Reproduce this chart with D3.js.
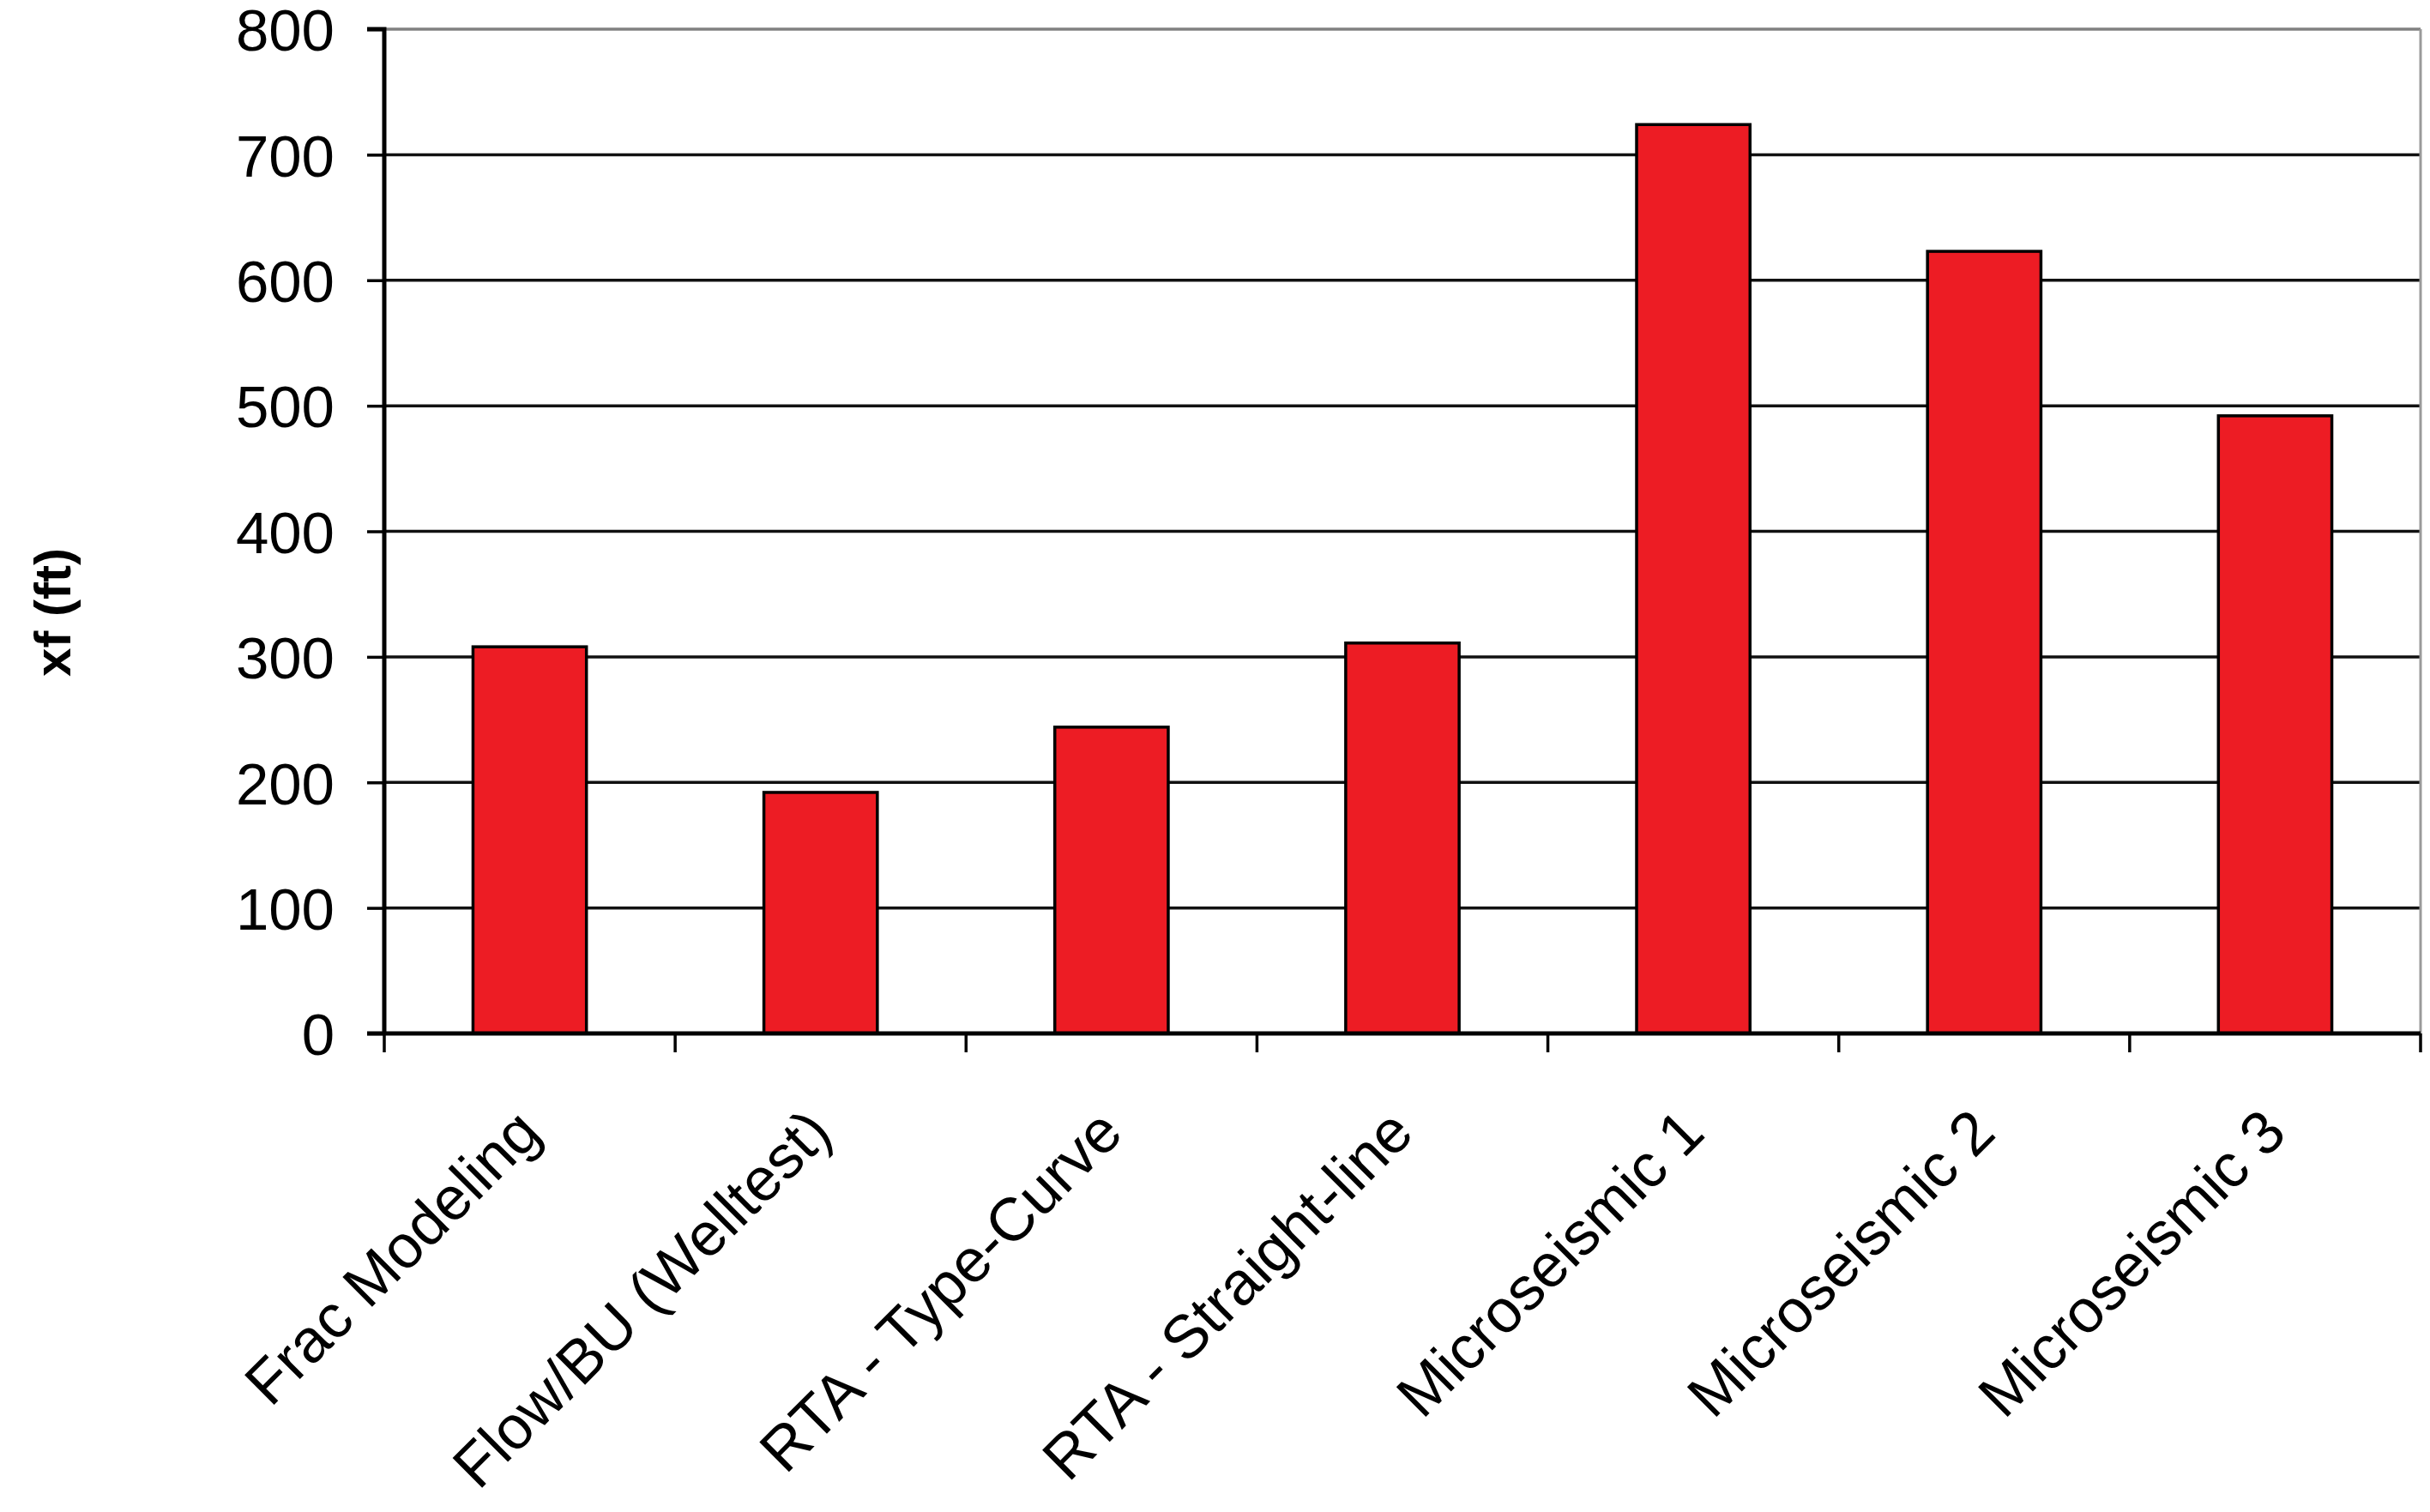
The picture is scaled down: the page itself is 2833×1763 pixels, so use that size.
<!DOCTYPE html>
<html>
<head>
<meta charset="utf-8">
<script src="https://cdn.jsdelivr.net/npm/d3@7"></script>
<style>
html,body{margin:0;padding:0;background:#fff;}
svg{display:block;}
text{font-family:"Liberation Sans",Arial,sans-serif;}
</style>
</head>
<body>
<script>
const categories = ["Frac Modeling","Flow/BU (Welltest)","RTA - Type-Curve","RTA - Straight-line","Microseismic 1","Microseismic 2","Microseismic 3"];
const values = [308,192,244,311,724,623,492];
const yTicks = [0,100,200,300,400,500,600,700,800];
const yTitle = "xf (ft)";

const W = 2833, H = 1763;
const mLeft = 448, mRight = 2822, mTop = 34, mBottom = 1205;

const svg = d3.select("body").append("svg").attr("width", W).attr("height", H);

const x = d3.scaleBand().domain(categories).range([mLeft, mRight]).paddingInner(0.61).paddingOuter(0.305);
const y = d3.scaleLinear().domain([0, 800]).range([mBottom, mTop]);
const step = x.step();

// gridlines
svg.append("g").selectAll("line").data(yTicks.filter(d => d > 0)).join("line")
  .attr("x1", mLeft).attr("x2", mRight)
  .attr("y1", d => y(d)).attr("y2", d => y(d))
  .attr("stroke", d => d === 800 ? "#808080" : "#111").attr("stroke-width", 3.5);

// right border
svg.append("line").attr("x1", mRight).attr("x2", mRight).attr("y1", y(800)).attr("y2", mBottom)
  .attr("stroke", "#9a9a9a").attr("stroke-width", 3);

// bars
svg.append("g").selectAll("rect").data(categories).join("rect")
  .attr("x", d => x(d)).attr("width", x.bandwidth())
  .attr("y", (d, i) => y(values[i])).attr("height", (d, i) => y(0) - y(values[i]))
  .attr("fill", "#ED1C24").attr("stroke", "#000").attr("stroke-width", 3.5);

// y axis
const yAxis = d3.axisLeft(y).tickValues(yTicks).tickSize(20).tickPadding(38);
const gy = svg.append("g").attr("transform", `translate(${mLeft},0)`).call(yAxis);
gy.select(".domain").attr("stroke", "#000").attr("stroke-width", 5).attr("d", `M-20,${mTop}H0V${mBottom}`);
gy.selectAll(".tick line").attr("stroke", "#000").attr("stroke-width", 3.5);
gy.selectAll(".tick text").attr("font-size", 69).attr("fill", "#000")
  .attr("font-family", "'Liberation Sans', Arial, sans-serif").attr("dy", "0.36em");

// x axis baseline + ticks at band boundaries
const xg = svg.append("g");
xg.append("line").attr("x1", mLeft - 20).attr("x2", mRight).attr("y1", mBottom).attr("y2", mBottom)
  .attr("stroke", "#000").attr("stroke-width", 5);
const bounds = d3.range(categories.length + 1).map(i => x(categories[0]) - step * x.paddingOuter() + i * step);
xg.selectAll("line.tk").data(bounds).join("line").attr("class", "tk")
  .attr("x1", d => d).attr("x2", d => d).attr("y1", mBottom).attr("y2", mBottom + 22)
  .attr("stroke", "#000").attr("stroke-width", 3.5);

// x labels
xg.selectAll("text").data(categories).join("text")
  .attr("transform", d => `translate(${x(d) + x.bandwidth() / 2 + 16},${mBottom + 119}) rotate(-45)`)
  .attr("text-anchor", "end").attr("font-size", 71).attr("fill", "#000")
  .text(d => d);

// y title
svg.append("text").attr("transform", `translate(82,714) rotate(-90)`)
  .attr("text-anchor", "middle").attr("font-size", 60).attr("font-weight", "bold").attr("fill", "#000")
  .text(yTitle);
</script>
</body>
</html>
